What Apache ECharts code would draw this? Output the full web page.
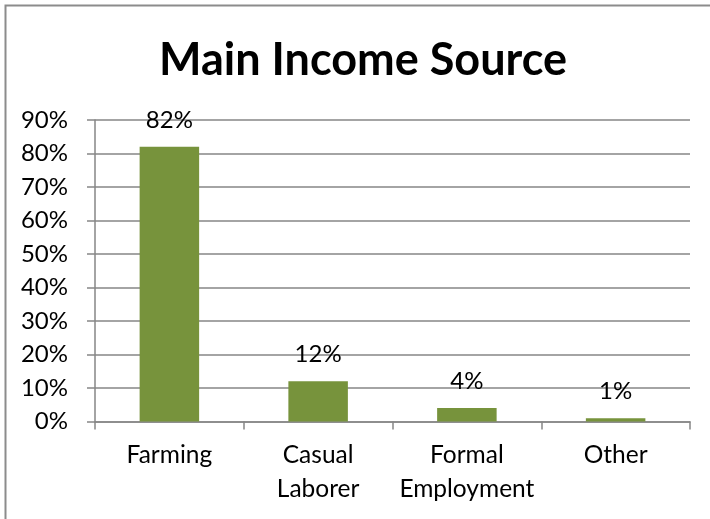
<!DOCTYPE html>
<html>
<head>
<meta charset="utf-8">
<style>
  html, body { margin: 0; padding: 0; background: #ffffff; }
  #chart { width: 710px; height: 519px; }
</style>
<script src="https://cdn.jsdelivr.net/npm/echarts@6/dist/echarts.min.js"></script>
</head>
<body>
<div id="chart"></div>
<script>
// Share of households by main source of income (percent)
const titleText = 'Main Income Source';
const categories = ['Farming', 'Casual\nLaborer', 'Formal\nEmployment', 'Other'];
const shares = [82, 12, 4, 1];
const yTicks = [0, 10, 20, 30, 40, 50, 60, 70, 80, 90];

const FONT = 'Lato, "Noto Sans", sans-serif';
const GRID_COLOR = '#868686';
const BAR_COLOR = '#77933C';

const chart = echarts.init(document.getElementById('chart'), null, { renderer: 'canvas' });

chart.setOption({
  backgroundColor: '#ffffff',
  animation: false,
  title: {
    text: titleText,
    left: 159,
    top: 38,
    padding: 0,
    textStyle: { fontFamily: FONT, fontSize: 45, fontWeight: 'bold', color: '#000000' }
  },
  graphic: [{
    type: 'rect',
    shape: { x: 5.5, y: 5.5, width: 760, height: 560 },
    style: { fill: 'none', stroke: '#8c8c8c', lineWidth: 2 },
    silent: true
  }],
  grid: { left: 95, right: 20, top: 120, bottom: 97.5, containLabel: false },
  xAxis: {
    type: 'category',
    data: categories,
    axisLine: { show: true, lineStyle: { color: GRID_COLOR, width: 1.5 } },
    axisTick: { show: true, length: 8, alignWithLabel: false, lineStyle: { color: GRID_COLOR, width: 1.5 } },
    axisLabel: {
      fontFamily: FONT, fontSize: 24.5, color: '#000000',
      margin: 17, lineHeight: 34, interval: 0
    }
  },
  yAxis: {
    type: 'value',
    min: 0,
    max: yTicks[yTicks.length - 1],
    interval: yTicks[1] - yTicks[0],
    axisLine: { show: true, lineStyle: { color: GRID_COLOR, width: 1.5 } },
    axisTick: { show: true, length: 8, lineStyle: { color: GRID_COLOR, width: 1.5 } },
    splitLine: { show: true, lineStyle: { color: GRID_COLOR, width: 1.5 } },
    axisLabel: {
      fontFamily: FONT, fontSize: 24, color: '#000000', margin: 27,
      formatter: v => v + '%'
    }
  },
  series: [{
    type: 'bar',
    data: shares,
    barWidth: '40%',
    itemStyle: { color: BAR_COLOR },
    label: {
      show: true,
      position: 'top',
      distance: 15,
      fontFamily: FONT, fontSize: 24, color: '#000000',
      formatter: p => p.value + '%'
    }
  }]
});
</script>
</body>
</html>
